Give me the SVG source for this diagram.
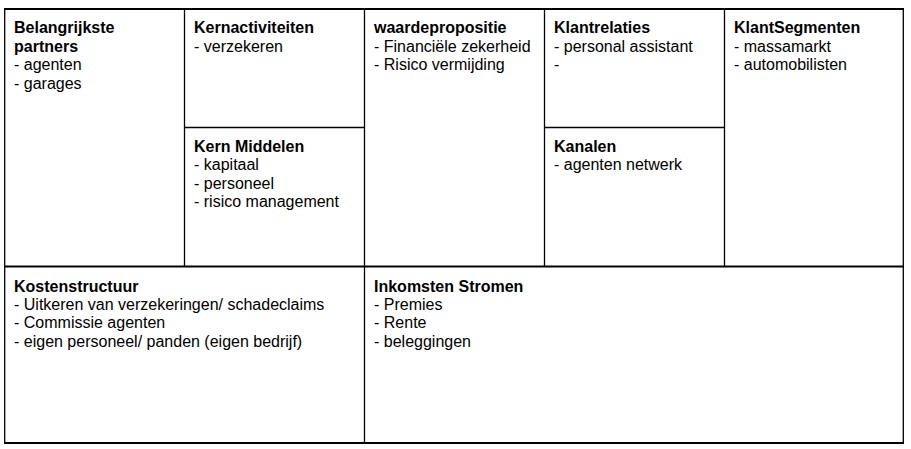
<svg xmlns="http://www.w3.org/2000/svg" width="911" height="449" viewBox="0 0 911 449">
<style>
text{font-family:"Liberation Sans",Arial,sans-serif;font-size:16px;fill:#000}
.t{font-weight:bold}
.ln{stroke:#000;stroke-width:1.3;fill:none}
.th{stroke:#000;stroke-width:2;fill:none}
</style>
<rect width="911" height="449" fill="#fff"/>
<g id="grid">
<line class="th" x1="4" y1="9" x2="904" y2="9"/>
<line class="th" x1="4" y1="443" x2="904" y2="443"/>
<line class="th" x1="4" y1="266.5" x2="904" y2="266.5"/>
<line class="ln" x1="4.7" y1="8" x2="4.7" y2="444"/>
<line class="ln" x1="903.3" y1="8" x2="903.3" y2="444"/>
<line class="ln" x1="184.5" y1="9" x2="184.5" y2="266"/>
<line class="ln" x1="364.5" y1="9" x2="364.5" y2="443"/>
<line class="ln" x1="544.5" y1="9" x2="544.5" y2="266"/>
<line class="ln" x1="724.5" y1="9" x2="724.5" y2="266"/>
<line class="ln" x1="184.5" y1="127.5" x2="364.5" y2="127.5"/>
<line class="ln" x1="544.5" y1="127.5" x2="724.5" y2="127.5"/>
</g>
<g id="partners">
<text x="14" y="33.3" class="t">Belangrijkste</text>
<text x="14" y="51.7" class="t">partners</text>
<text x="14" y="70.1">- agenten</text>
<text x="14" y="88.5">- garages</text>
</g>
<g id="kernactiviteiten">
<text x="194" y="33.3" class="t">Kernactiviteiten</text>
<text x="194" y="51.7">- verzekeren</text>
</g>
<g id="kernmiddelen">
<text x="194" y="151.7" class="t">Kern Middelen</text>
<text x="194" y="170.1">- kapitaal</text>
<text x="194" y="188.5">- personeel</text>
<text x="194" y="206.9">- risico management</text>
</g>
<g id="waardepropositie">
<text x="374" y="33.3" class="t">waardepropositie</text>
<text x="374" y="51.7">- Financiële zekerheid</text>
<text x="374" y="70.1">- Risico vermijding</text>
</g>
<g id="klantrelaties">
<text x="554" y="33.3" class="t">Klantrelaties</text>
<text x="554" y="51.7">- personal assistant</text>
<text x="554" y="70.1">-</text>
</g>
<g id="kanalen">
<text x="554" y="151.7" class="t">Kanalen</text>
<text x="554" y="170.1">- agenten netwerk</text>
</g>
<g id="klantsegmenten">
<text x="734" y="33.3" class="t">KlantSegmenten</text>
<text x="734" y="51.7">- massamarkt</text>
<text x="734" y="70.1">- automobilisten</text>
</g>
<g id="kostenstructuur">
<text x="14" y="291.5" class="t">Kostenstructuur</text>
<text x="14" y="309.9">- Uitkeren van verzekeringen/ schadeclaims</text>
<text x="14" y="328.3">- Commissie agenten</text>
<text x="14" y="346.7">- eigen personeel/ panden (eigen bedrijf)</text>
</g>
<g id="inkomsten">
<text x="374" y="291.5" class="t">Inkomsten Stromen</text>
<text x="374" y="309.9">- Premies</text>
<text x="374" y="328.3">- Rente</text>
<text x="374" y="346.7">- beleggingen</text>
</g>
</svg>
